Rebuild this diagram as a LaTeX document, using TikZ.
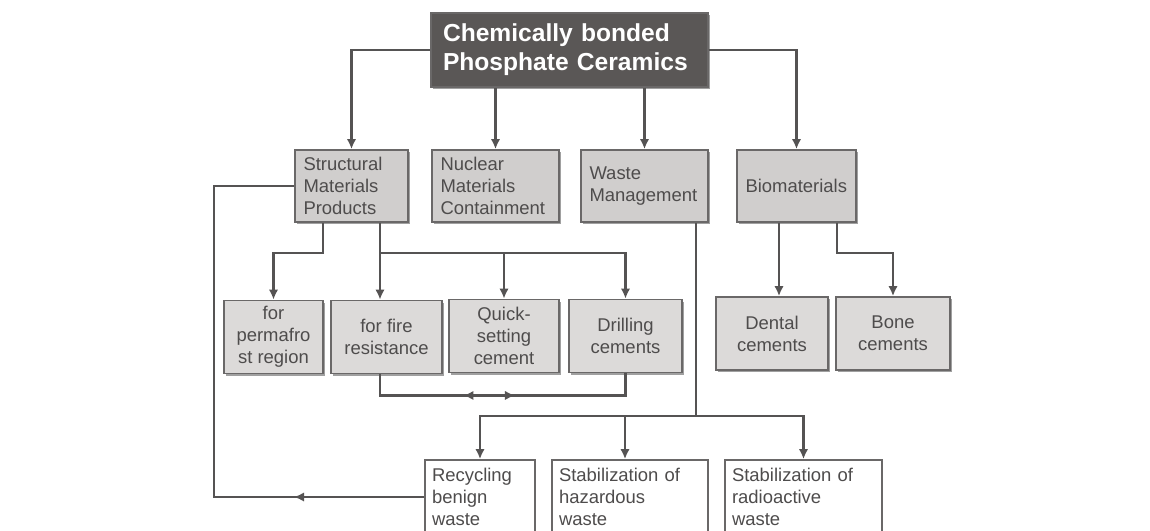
\documentclass[tikz,border=0pt]{standalone}
\usepackage{fontspec}
\setmainfont{Liberation Sans}
\usetikzlibrary{arrows.meta,positioning,calc,shadows,decorations.markings}
\definecolor{cbdark}{HTML}{5A5756}
\definecolor{cbcat}{HTML}{D0CECD}
\definecolor{cbuse}{HTML}{DCDAD9}
\definecolor{cbedge}{HTML}{6A6868}
\definecolor{cbline}{HTML}{555353}
\definecolor{cbtext}{HTML}{4E4C4C}

\begin{document}
\begin{tikzpicture}[
      x=0.02cm,y=-0.02cm,
      font=\fontsize{10.5}{12.5}\selectfont,
      shade/.style={drop shadow={shadow xshift=1.4pt,shadow yshift=-1.4pt,opacity=0.75}},
      headbox/.style={draw=cbedge,line width=1.1pt,fill=cbdark,text=white,align=left,
        font=\fontsize{14}{16.5}\selectfont\bfseries,inner xsep=0.24cm,
        text width=5.06cm,minimum height=1.48cm,shade},
      catbox/.style={draw=cbedge,line width=1.1pt,fill=cbcat,text=cbtext,align=left,
        inner xsep=0.17cm,minimum height=1.44cm,shade},
      usebox/.style={draw=cbedge,line width=1.1pt,fill=cbuse,text=cbtext,align=center,
        inner xsep=0pt,minimum height=1.46cm,shade},
      wastebox/.style={draw=cbedge,line width=1.1pt,fill=white,text=cbtext,align=left,
        inner xsep=0.14cm,minimum height=1.48cm},
      link/.style={line width=1.4pt,color=cbline},
      arrow/.style={link,-{Latex[length=2mm,width=1.9mm]}},
      midtip/.style={link,postaction={decorate},decoration={markings,#1}}
    ]
    \useasboundingbox (0,0) rectangle (1150,531);
    \clip (0,0) rectangle (1150,531);
    % top
    \node[headbox] (cbpc) at (569.5,50) {Chemically bonded\\Phosphate Ceramics};
    % application fields
    \node[catbox,text width=1.92cm] (smp) at (351.5,186) {Structural\\Materials\\Products};
    \node[catbox,text width=2.2cm] (nmc) at (495.5,186) {Nuclear\\Materials\\Containment};
    \node[catbox,text width=2.2cm] (wm) at (644.5,186) {Waste\\Management};
    \node[catbox,text width=2.04cm] (bio) at (796.5,186) {Biomaterials};
    % products
    \node[usebox,minimum width=1.98cm] (perm) at (273.5,337) {for\\permafro\\st region};
    \node[usebox,minimum width=2.22cm] (fire) at (386.5,337) {for fire\\resistance};
    \node[usebox,minimum width=2.2cm] (quick) at (504,336) {Quick-\\setting\\cement};
    \node[usebox,minimum width=2.26cm] (drill) at (625.5,336) {Drilling\\cements};
    \node[usebox,minimum width=2.24cm] (dent) at (772,333.5) {Dental\\cements};
    \node[usebox,minimum width=2.28cm] (bone) at (893,333.5) {Bone\\cements};
    % waste streams
    \node[wastebox,text width=1.92cm] (recy) at (480,497) {Recycling\\benign\\waste};
    \node[wastebox,text width=2.84cm] (haz) at (630,497) {Stabilization of\\hazardous\\waste};
    \node[wastebox,text width=2.86cm] (radio) at (803.5,497) {Stabilization of\\radioactive\\waste};

    \draw[arrow] (cbpc.west) -| (smp.north);
    \draw[arrow] (nmc.north |- cbpc.south) -- (nmc.north);
    \draw[arrow] (wm.north |- cbpc.south) -- (wm.north);
    \draw[arrow] (cbpc.east) -| (bio.north);

    \coordinate (s1) at ([xshift=-0.57cm]smp.south);
    \coordinate (s2) at ([xshift=0.57cm]smp.south);
    \draw[arrow] (s1) -- ++(0,30) -| (perm.north);
    \draw[arrow] (s2) -- (s2 |- fire.north);
    \draw[arrow] (s2) ++(0,30) -| (quick.north);
    \draw[arrow] (s2) ++(0,30) -| (drill.north);
    \draw[midtip={mark=at position 2.09cm with {\arrowreversed{Latex[length=2mm,width=1.9mm]}},
                  mark=at position 3.12cm with {\arrow{Latex[length=2mm,width=1.9mm]}}}]
      ([xshift=-0.13cm]fire.south) -- ++(0,21) -| (drill.south);

    \coordinate (b1) at ([xshift=-0.35cm]bio.south);
    \coordinate (b2) at ([xshift=0.81cm]bio.south);
    \draw[arrow] (b1) -- (b1 |- dent.north);
    \draw[arrow] (b2) -- ++(0,30) -| (bone.north);

    \coordinate (w1) at ([xshift=1.03cm]wm.south);
    \draw[link] (w1) -- ++(0,193) coordinate (wbus);
    \draw[arrow] (wbus) -| (recy.north);
    \draw[arrow] (wbus) -| ([xshift=-0.1cm]haz.north);
    \draw[arrow] (wbus) -| (radio.north);

    \coordinate (lc) at (214,497);
    \draw[midtip={mark=at position 2.6cm with {\arrow{Latex[length=2mm,width=1.9mm]}}}]
      (recy.west) -- (lc) |- (smp.west);
  \end{tikzpicture}
\end{document}
